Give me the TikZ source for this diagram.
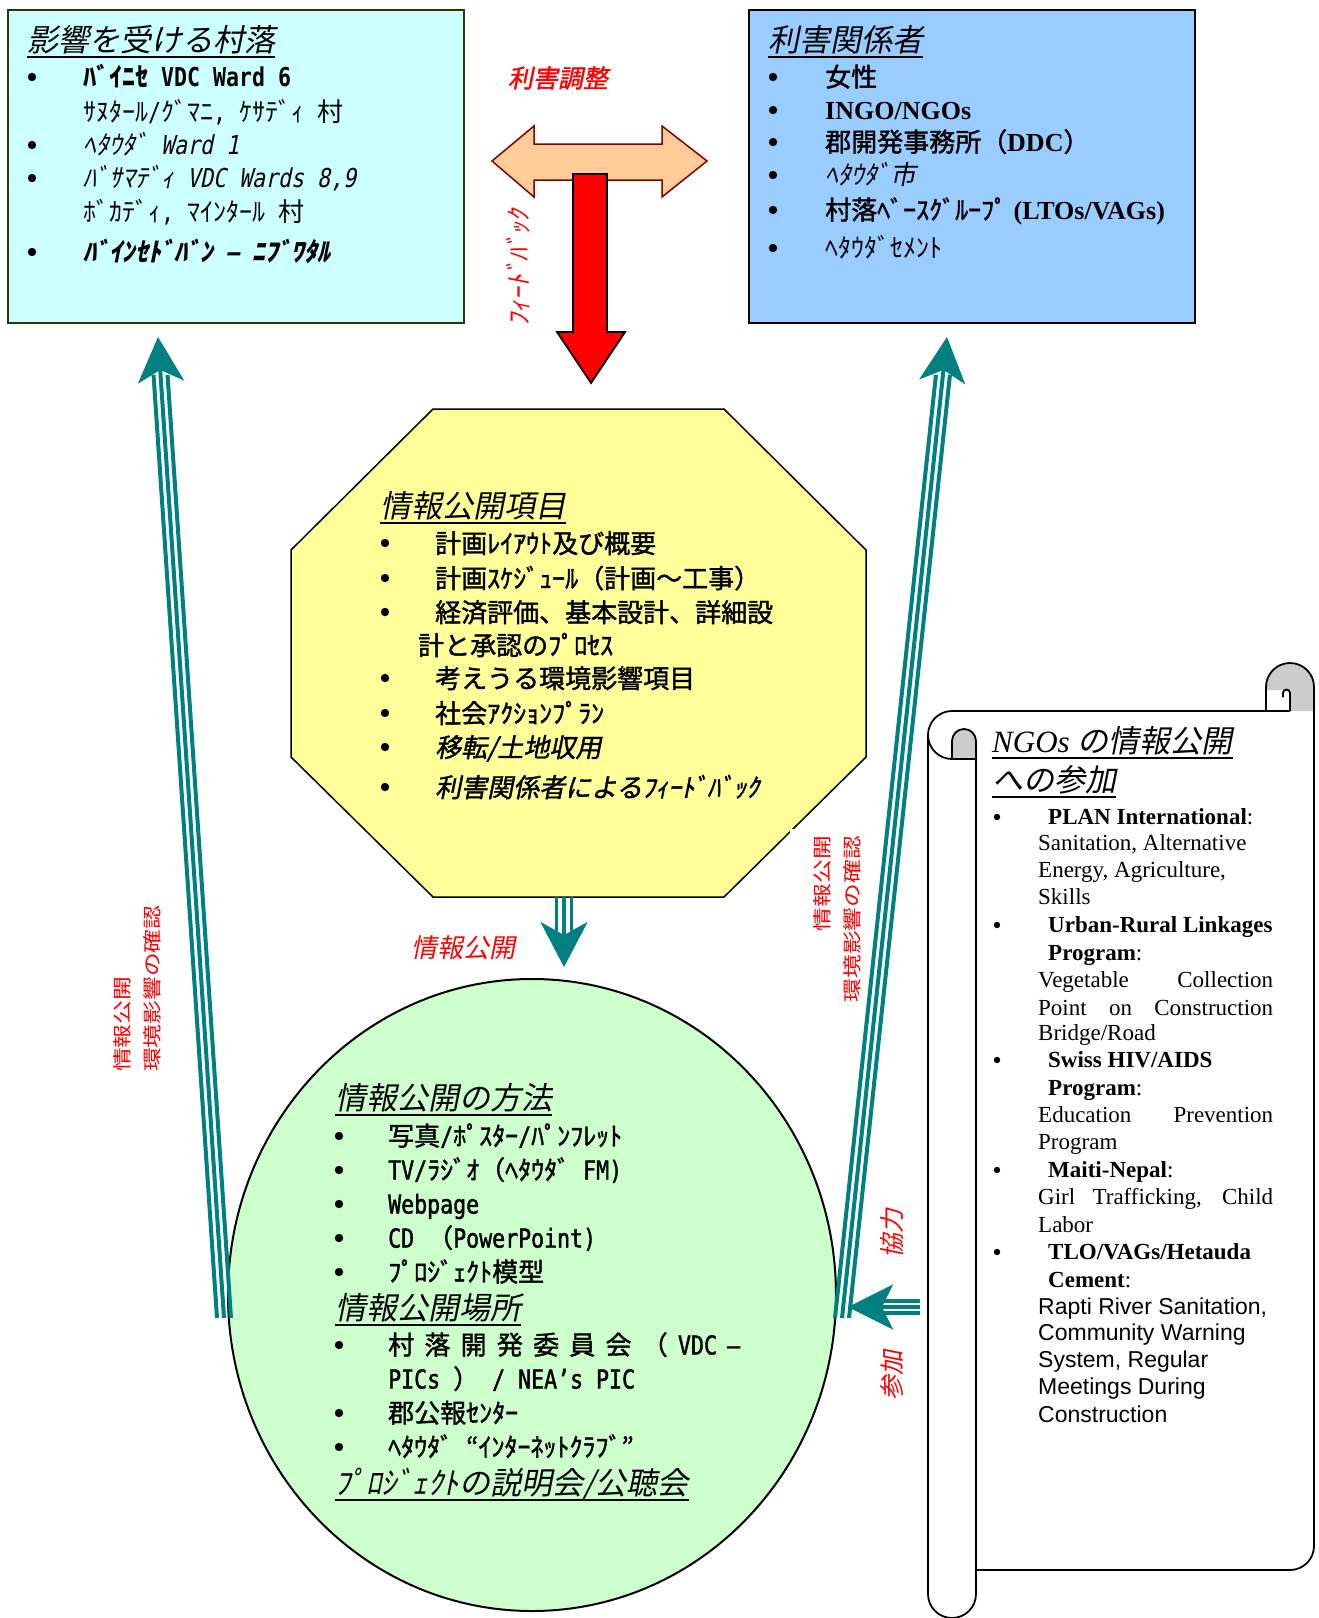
\documentclass[tikz,border=0pt]{standalone}
\usepackage{fontspec}
\usetikzlibrary{arrows.meta,shapes.geometric,calc}
\setmainfont{Liberation Serif}
\newfontfamily\jp{Noto Sans CJK JP}
\newfontfamily\jpm[FakeBold=1.5]{Noto Sans CJK JP}
\newfontfamily\jpi[FakeSlant=0.2]{Noto Sans CJK JP}
\newfontfamily\jpim[FakeSlant=0.2,FakeBold=1.5]{Noto Sans CJK JP}
\newfontfamily\jpr[FakeStretch=1.25]{Noto Sans CJK JP}
\newfontfamily\mono[FakeStretch=0.83]{DejaVu Sans Mono}
\newfontfamily\monom[FakeStretch=0.83,FakeBold=1.5]{DejaVu Sans Mono}
\newfontfamily\monoi[FakeStretch=0.83,FakeSlant=0.2]{DejaVu Sans Mono}
\newfontfamily\tms{Liberation Serif}
\newfontfamily\ari{Liberation Sans}
\newcommand\fsz[1]{\fontsize{#1}{#1}\selectfont}
\definecolor{olive0}{HTML}{333300}
\definecolor{cyan0}{HTML}{CCFFFF}
\definecolor{blue0}{HTML}{99CCFF}
\definecolor{yel0}{HTML}{FFFF99}
\definecolor{green0}{HTML}{CCFFCC}
\definecolor{orange0}{HTML}{FFCC99}
\definecolor{dred0}{HTML}{800000}
\definecolor{teal0}{HTML}{008080}
\definecolor{red0}{HTML}{FF0000}
\definecolor{gray0}{HTML}{CCCCCC}
\tikzset{
  txt/.style={inner sep=0pt, anchor=base west},
  bul/.style={fill=black},
  body/.style={txt, font=\jp\fsz{26}},
  bodym/.style={txt, font=\jpm\fsz{26}},
  bodyi/.style={txt, font=\jpi\fsz{26}},
  bodyim/.style={txt, font=\jpim\fsz{26}},
  ttl/.style={txt, font=\jpi\fsz{31}},
  ul/.style={line width=1.5pt},
  scr/.style={txt, font=\tms\fsz{23}},
  scrb/.style={txt, font=\tms\bfseries\fsz{23}},
  scra/.style={txt, font=\ari\fsz{23}},
  redlbl/.style={inner sep=0pt, text=red0},
  tl/.style={draw=teal0, line width=4pt},
  tlh/.style={draw=teal0, line width=4pt, -{Stealth[length=45pt,width=46pt,inset=12pt]}},
  scroll/.style={draw=black, line width=1.8pt, line join=round},
}
\begin{document}
\begin{tikzpicture}[x=1pt,y=-1pt]
\useasboundingbox (0,0) rectangle (1319,1618);

% ---------- top boxes
\node[draw=olive0, fill=cyan0, line width=2pt, minimum width=456pt, minimum height=313pt, anchor=north west, inner sep=0pt] (lbox) at (7,9) {};
\node[draw=black, fill=blue0, line width=2pt, minimum width=446pt, minimum height=313pt, anchor=north west, inner sep=0pt] (rbox) at (748,9) {};

% left box text
\node[ttl] (LT) at (27,51) {影響を受ける村落};
\draw[ul] ([yshift=-6pt]LT.base west) -- ([yshift=-6pt]LT.base east);
\fill[bul] (32,77) circle[radius=4.2];
\node[body, font=\jp\bfseries\fsz{26}] (L1) at (83,86) {ﾊﾞｲﾆｾ{\mono\ VDC Ward 6}};
\node[body] (L2) at (83,121) {ｻﾇﾀｰﾙ{\mono/}ｸﾞﾏﾆ{\mono,\ }ｹｻﾃﾞｨ{\mono\ }村};
\fill[bul] (32,145) circle[radius=4.2];
\node[bodyi] (L3) at (83,154) {ﾍﾀｳﾀﾞ{\monoi\ Ward 1}};
\fill[bul] (32,178) circle[radius=4.2];
\node[bodyi] (L4) at (83,187) {ﾊﾞｻﾏﾃﾞｨ{\monoi\ VDC Wards 8,9}};
\node[body] (L5) at (83,221) {ﾎﾞｶﾃﾞｨ{\mono,\ }ﾏｲﾝﾀｰﾙ{\mono\ }村};
\fill[bul] (32,252) circle[radius=4.2];
\node[body, font=\jpi\bfseries\fsz{26}] (L6) at (83,261) {ﾊﾞｲﾝｾﾄﾞﾊﾞﾝ{\monoi\bfseries\ –\ }ﾆﾌﾞﾜﾀﾙ};

% right box text
\node[ttl] (RT) at (768,51) {利害関係者};
\draw[ul] ([yshift=-6pt]RT.base west) -- ([yshift=-6pt]RT.base east);
\fill[bul] (773,77) circle[radius=4.2];
\node[bodym] (R1) at (825,86.5) {女性};
\fill[bul] (773,110) circle[radius=4.2];
\node[body, font=\tms\bfseries\fsz{26}] (R2) at (825,119.5) {INGO/NGOs};
\fill[bul] (773,142) circle[radius=4.2];
\node[bodym] (R3) at (825,151.5) {郡開発事務所（{\tms\bfseries DDC}）};
\fill[bul] (773,175) circle[radius=4.2];
\node[bodyi] (R4) at (825,184.5) {ﾍﾀｳﾀﾞ市};
\fill[bul] (773,210) circle[radius=4.2];
\node[bodym] (R5) at (825,219.5) {村落ﾍﾞｰｽｸﾞﾙｰﾌﾟ{\tms\bfseries\ (LTOs/VAGs)}};
\fill[bul] (773,248) circle[radius=4.2];
\node[body] (R6) at (825,257.5) {ﾍﾀｳﾀﾞｾﾒﾝﾄ};

% ---------- T arrow
\filldraw[fill=orange0, draw=dred0, line width=1.5pt, line join=miter]
  (492,161) -- (534,126) -- (534,144) -- (662,144) -- (662,126) -- (707,161)
  -- (662,197) -- (662,180) -- (534,180) -- (534,197) -- cycle;
\filldraw[fill=red0, draw=black, line width=1.8pt, line join=miter]
  (573,174) -- (607,174) -- (607,332) -- (625,332) -- (591,383) -- (557,332) -- (573,332) -- cycle;
\node[redlbl, font=\jpim\fsz{25}] (rgc) at (558,78) {利害調整};
\node[redlbl, font=\jpi\fsz{26}, rotate=90] (fb) at (518,268) {ﾌｨｰﾄﾞﾊﾞｯｸ};

% ---------- octagon
\filldraw[fill=yel0, draw=black, line width=1.5pt]
  (433,409) -- (724,409) -- (866,550) -- (866,757) -- (724,897) -- (433,897) -- (291,757) -- (291,550) -- cycle;
\node[ttl] (OT) at (380,517) {情報公開項目};
\draw[ul] ([yshift=-6pt]OT.base west) -- ([yshift=-6pt]OT.base east);
\fill[bul] (385,543) circle[radius=4.2];
\node[bodym] (O1) at (435,553) {計画ﾚｲｱｳﾄ及び概要};
\fill[bul] (385,578) circle[radius=4.2];
\node[bodym] (O2) at (435,588) {計画ｽｹｼﾞｭｰﾙ（計画～工事）};
\fill[bul] (385,612) circle[radius=4.2];
\node[bodym] (O3) at (435,622) {経済評価、基本設計、詳細設};
\node[bodym] (O3b) at (418,655) {計と承認のﾌﾟﾛｾｽ};
\fill[bul] (385,678) circle[radius=4.2];
\node[bodym] (O4) at (435,688) {考えうる環境影響項目};
\fill[bul] (385,713) circle[radius=4.2];
\node[bodym] (O5) at (435,723) {社会ｱｸｼｮﾝﾌﾟﾗﾝ};
\fill[bul] (385,747) circle[radius=4.2];
\node[bodyim] (O6) at (435,757) {移転/土地収用};
\fill[bul] (385,787) circle[radius=4.2];
\node[bodyim] (O7) at (435,797) {利害関係者によるﾌｨｰﾄﾞﾊﾞｯｸ};

% ---------- circle
\node[ellipse, draw=black, fill=green0, line width=2pt, minimum width=608pt, minimum height=632pt, inner sep=0pt] (circ) at (532,1295) {};
\node[ttl] (CT1) at (335,1109) {情報公開の方法};
\draw[ul] ([yshift=-6pt]CT1.base west) -- ([yshift=-6pt]CT1.base east);
\fill[bul] (339,1136) circle[radius=4.2];
\node[bodym] (C1) at (388,1145.5) {写真{\monom/}ﾎﾟｽﾀｰ{\monom/}ﾊﾟﾝﾌﾚｯﾄ};
\fill[bul] (339,1170) circle[radius=4.2];
\node[bodym] (C2) at (388,1179.5) {{\monom TV/}ﾗｼﾞｵ（ﾍﾀｳﾀﾞ{\monom\ FM)}};
\fill[bul] (339,1204) circle[radius=4.2];
\node[bodym] (C3) at (388,1213.5) {{\monom Webpage}};
\fill[bul] (339,1238) circle[radius=4.2];
\node[bodym] (C4) at (388,1247.5) {{\monom CD\ }（{\monom PowerPoint)}};
\fill[bul] (339,1272) circle[radius=4.2];
\node[bodym] (C5) at (388,1281.5) {ﾌﾟﾛｼﾞｪｸﾄ模型};
\node[ttl] (CT2) at (335,1319) {情報公開場所};
\draw[ul] ([yshift=-6pt]CT2.base west) -- ([yshift=-6pt]CT2.base east);
\fill[bul] (339,1345) circle[radius=4.2];
\node[bodym] (C6) at (388,1354.5) {\makebox[352pt][s]{村 落 開 発 委 員 会 （ {\monom VDC} {\monom –}}};
\node[bodym] (C6b) at (388,1388.5) {{\monom PICs }）{\monom\ / NEA’s PIC}};
\fill[bul] (339,1413) circle[radius=4.2];
\node[bodym] (C7) at (388,1422.5) {郡公報ｾﾝﾀｰ};
\fill[bul] (339,1447) circle[radius=4.2];
\node[bodym] (C8) at (388,1456.5) {ﾍﾀｳﾀﾞ{\monom\ }“ｲﾝﾀｰﾈｯﾄｸﾗﾌﾞ”};
\node[ttl] (CT3) at (335,1494) {ﾌﾟﾛｼﾞｪｸﾄの説明会/公聴会};
\draw[ul] ([yshift=-6pt]CT3.base west) -- ([yshift=-6pt]CT3.base east);

% ---------- scroll
\fill[white] (928,735) -- (928,1594) arc[start angle=180,end angle=0,radius=24] -- (976,1570)
  -- (1290,1570) arc[start angle=90,end angle=0,radius=24] -- (1314,687) -- (1266,687) -- (1266,711)
  -- (952,711) arc[start angle=270,end angle=180,radius=24] -- cycle;
\filldraw[fill=gray0, draw=none] (1266,687) arc[start angle=180,end angle=360,radius=24] -- (1314,711) -- (1290,711) -- (1290,690) -- (1266,690) -- cycle;
\draw[scroll] (952,711) -- (1290,711);
\draw[scroll] (1266,711) -- (1266,687) arc[start angle=180,end angle=360,radius=24] -- (1314,1546) arc[start angle=0,end angle=90,radius=24] -- (976,1570);
\draw[scroll] (1290,711) -- (1290,693) arc[start angle=0,end angle=-180,radius=3.5] -- (1283,697);
\draw[scroll] (952,711) arc[start angle=270,end angle=90,radius=24];
\draw[scroll] (928,735) -- (928,1594) arc[start angle=180,end angle=0,radius=24] -- (976,745);
\filldraw[scroll, fill=gray0] (952,759) -- (952,741) arc[start angle=180,end angle=360,radius=12] -- (976,759) -- cycle;
\coordinate (scrollL) at (920,1307);

\node[txt, font=\fsz{31}] (ST1) at (992,752) {{\tms\itshape NGOs }{\jpi の情報公開}};
\draw[ul] ([yshift=-6pt]ST1.base west) -- ([yshift=-6pt]ST1.base east);
\node[ttl] (ST2) at (992,791) {への参加};
\draw[ul] ([yshift=-6pt]ST2.base west) -- ([yshift=-6pt]ST2.base east);
\fill[bul] (997,817) circle[radius=3.2];
\node[scrb] (S1) at (1048,824) {PLAN International{\mdseries :}};
\node[scr] (S2) at (1038,850) {Sanitation, Alternative};
\node[scr] (S3) at (1038,877) {Energy, Agriculture,};
\node[scr] (S4) at (1038,904) {Skills};
\fill[bul] (997,925) circle[radius=3.2];
\node[scrb] (S5) at (1048,932) {Urban-Rural Linkages};
\node[scrb] (S6) at (1048,960) {Program{\mdseries :}};
\node[scr] (S7) at (1038,987) {\makebox[235pt][s]{Vegetable Collection}};
\node[scr] (S8) at (1038,1015) {\makebox[235pt][s]{Point on Construction}};
\node[scr] (S9) at (1038,1040) {Bridge/Road};
\fill[bul] (997,1060) circle[radius=3.2];
\node[scrb] (S10) at (1048,1067) {Swiss HIV/AIDS};
\node[scrb] (S11) at (1048,1095) {Program{\mdseries :}};
\node[scr] (S12) at (1038,1122) {\makebox[235pt][s]{Education Prevention}};
\node[scr] (S13) at (1038,1149) {Program};
\fill[bul] (997,1170) circle[radius=3.2];
\node[scrb] (S14) at (1048,1177) {Maiti-Nepal{\mdseries :}};
\node[scr] (S15) at (1038,1204) {\makebox[235pt][s]{Girl Trafficking, Child}};
\node[scr] (S16) at (1038,1232) {Labor};
\fill[bul] (997,1252) circle[radius=3.2];
\node[scrb] (S17) at (1048,1259) {TLO/VAGs/Hetauda};
\node[scrb] (S18) at (1048,1287) {Cement{\mdseries :}};
\node[scra] (S19) at (1038,1314) {Rapti River Sanitation,};
\node[scra] (S20) at (1038,1340) {Community Warning};
\node[scra] (S21) at (1038,1367) {System, Regular};
\node[scra] (S22) at (1038,1394) {Meetings During};
\node[scra] (S23) at (1038,1422) {Construction};

% ---------- white label backing on the right
\fill[white] (790,829) rectangle (883,1084);

% ---------- teal arrows
% left: circle -> affected villages
\coordinate (lA) at (224,1318);
\coordinate (lB) at (158,337);
\draw[tl, shorten >=38pt] ([xshift=-7pt]lA) -- ([xshift=-7pt]lB);
\draw[tl, shorten >=38pt] ([xshift=7pt]lA) -- ([xshift=7pt]lB);
\draw[tlh] (lA) -- (lB);
% right: circle -> stakeholders
\coordinate (rA) at (842,1318);
\coordinate (rB) at (947,337);
\draw[tl, shorten >=38pt] ([xshift=-7pt]rA) -- ([xshift=-7pt]rB);
\draw[tl, shorten >=38pt] ([xshift=7pt]rA) -- ([xshift=7pt]rB);
\draw[tlh] (rA) -- (rB);
% center: octagon -> circle
\coordinate (cA) at (564,897);
\coordinate (cB) at (564,967);
\draw[tl, line width=3.5pt, shorten >=36pt] ([xshift=-7.5pt]cA) -- ([xshift=-7.5pt]cB);
\draw[tl, line width=3.5pt, shorten >=36pt] ([xshift=7.5pt]cA) -- ([xshift=7.5pt]cB);
\draw[tl, line width=3.5pt, -{Stealth[length=45pt,width=47pt,inset=13pt]}] (cA) -- (cB);
% participation: scroll -> circle
\coordinate (pB) at (848,1307);
\draw[tl, line width=3.5pt, shorten >=36pt] ([yshift=6pt]scrollL) -- ([yshift=6pt]pB);
\draw[tl, line width=3.5pt, shorten >=36pt] ([yshift=-6pt]scrollL) -- ([yshift=-6pt]pB);
\draw[tl, line width=3.5pt, -{Stealth[length=45pt,width=45pt,inset=11pt]}] (scrollL) -- (pB);

% ---------- red labels
\node[redlbl, rotate=90, anchor=west, align=left, font=\jpr\fontsize{19}{30}\selectfont] (LL) at (137,1072) {情報公開\\環境影響の確認};
\node[redlbl, rotate=90, anchor=east, align=right, font=\jpr\fontsize{19}{30}\selectfont] (RL) at (837,836) {情報公開\\環境影響の確認};
\node[redlbl, font=\jpi\fsz{26}] (CL) at (463,948) {情報公開};
\node[redlbl, font=\jpi\fsz{25}, rotate=90] (KY) at (892,1233) {協力};
\node[redlbl, font=\jpi\fsz{25}, rotate=90] (SK) at (892,1375) {参加};
\end{tikzpicture}
\end{document}
